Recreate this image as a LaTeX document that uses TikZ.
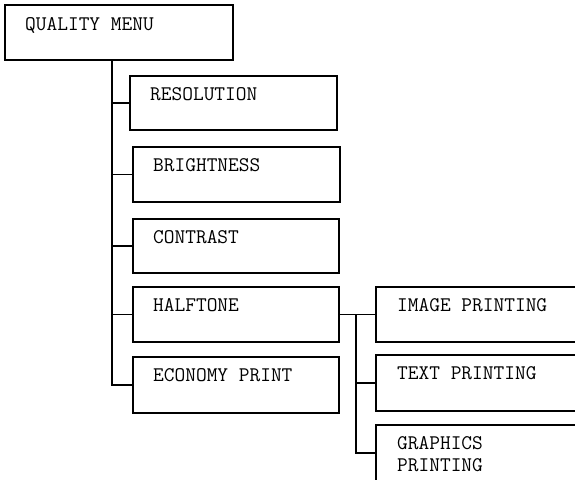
\documentclass[tikz,border=0pt]{standalone}
\begin{document}
\begin{tikzpicture}[x=1pt,y=-1pt,
  box/.style={draw=black,line width=1.8pt,rectangle,inner sep=0pt,outer sep=0pt,anchor=north west},
  lbl/.style={anchor=base west,inner sep=0pt,font=\fontsize{20.8}{22}\selectfont\ttfamily},
  conn/.style={draw=black,line width=1.8pt}]
\clip (0,0) rectangle (575,479);
\fill[white] (0,0) rectangle (575,479);
% boxes
\node[box,minimum width=228pt,minimum height=55pt] (qm)  at (5,5) {};
\node[box,minimum width=207pt,minimum height=54pt] (res) at (130,76) {};
\node[box,minimum width=207pt,minimum height=55pt] (bri) at (133,147) {};
\node[box,minimum width=206pt,minimum height=54pt] (con) at (133,219) {};
\node[box,minimum width=206pt,minimum height=55pt] (hal) at (133,287) {};
\node[box,minimum width=206pt,minimum height=56pt] (eco) at (133,357) {};
\node[box,minimum width=230pt,minimum height=55pt] (img) at (376,287) {};
\node[box,minimum width=230pt,minimum height=56pt] (txt) at (376,355) {};
\node[box,minimum width=230pt,minimum height=56pt] (gfx) at (376,425) {};
% labels
\node[lbl] (qmt)  at ([xshift=20pt,yshift=-25pt]qm.north west)  {QUALITY MENU};
\node[lbl] (rest) at ([xshift=20pt,yshift=-24pt]res.north west) {RESOLUTION};
\node[lbl] (brit) at ([xshift=20pt,yshift=-24pt]bri.north west) {BRIGHTNESS};
\node[lbl] (cont) at ([xshift=20pt,yshift=-24pt]con.north west) {CONTRAST};
\node[lbl] (halt) at ([xshift=20pt,yshift=-24pt]hal.north west) {HALFTONE};
\node[lbl] (ecot) at ([xshift=20pt,yshift=-24pt]eco.north west) {ECONOMY PRINT};
\node[lbl] (imgt) at ([xshift=21pt,yshift=-24pt]img.north west) {IMAGE PRINTING};
\node[lbl] (txtt) at ([xshift=21pt,yshift=-24pt]txt.north west) {TEXT PRINTING};
\node[lbl] (gfxt) at ([xshift=21pt,yshift=-24pt]gfx.north west) {GRAPHICS};
\node[lbl] (gfxt2) at ([xshift=21pt,yshift=-46pt]gfx.north west) {PRINTING};
% trunks
\coordinate (tx) at (112,0);
\coordinate (tx2) at (356,0);
\draw[conn] (tx |- qm.south) |- (eco.west);
\draw[conn] (tx |- res.west) -- (res.west);
\draw[conn] (tx |- bri.west) -- (bri.west);
\draw[conn] (tx |- con.west) -- (con.west);
\draw[conn] (tx |- hal.west) -- (hal.west);
\draw[conn] (hal.east) -- (img.west);
\draw[conn] (tx2 |- hal.east) |- (gfx.west);
\draw[conn] (tx2 |- txt.west) -- (txt.west);
\end{tikzpicture}
\end{document}
